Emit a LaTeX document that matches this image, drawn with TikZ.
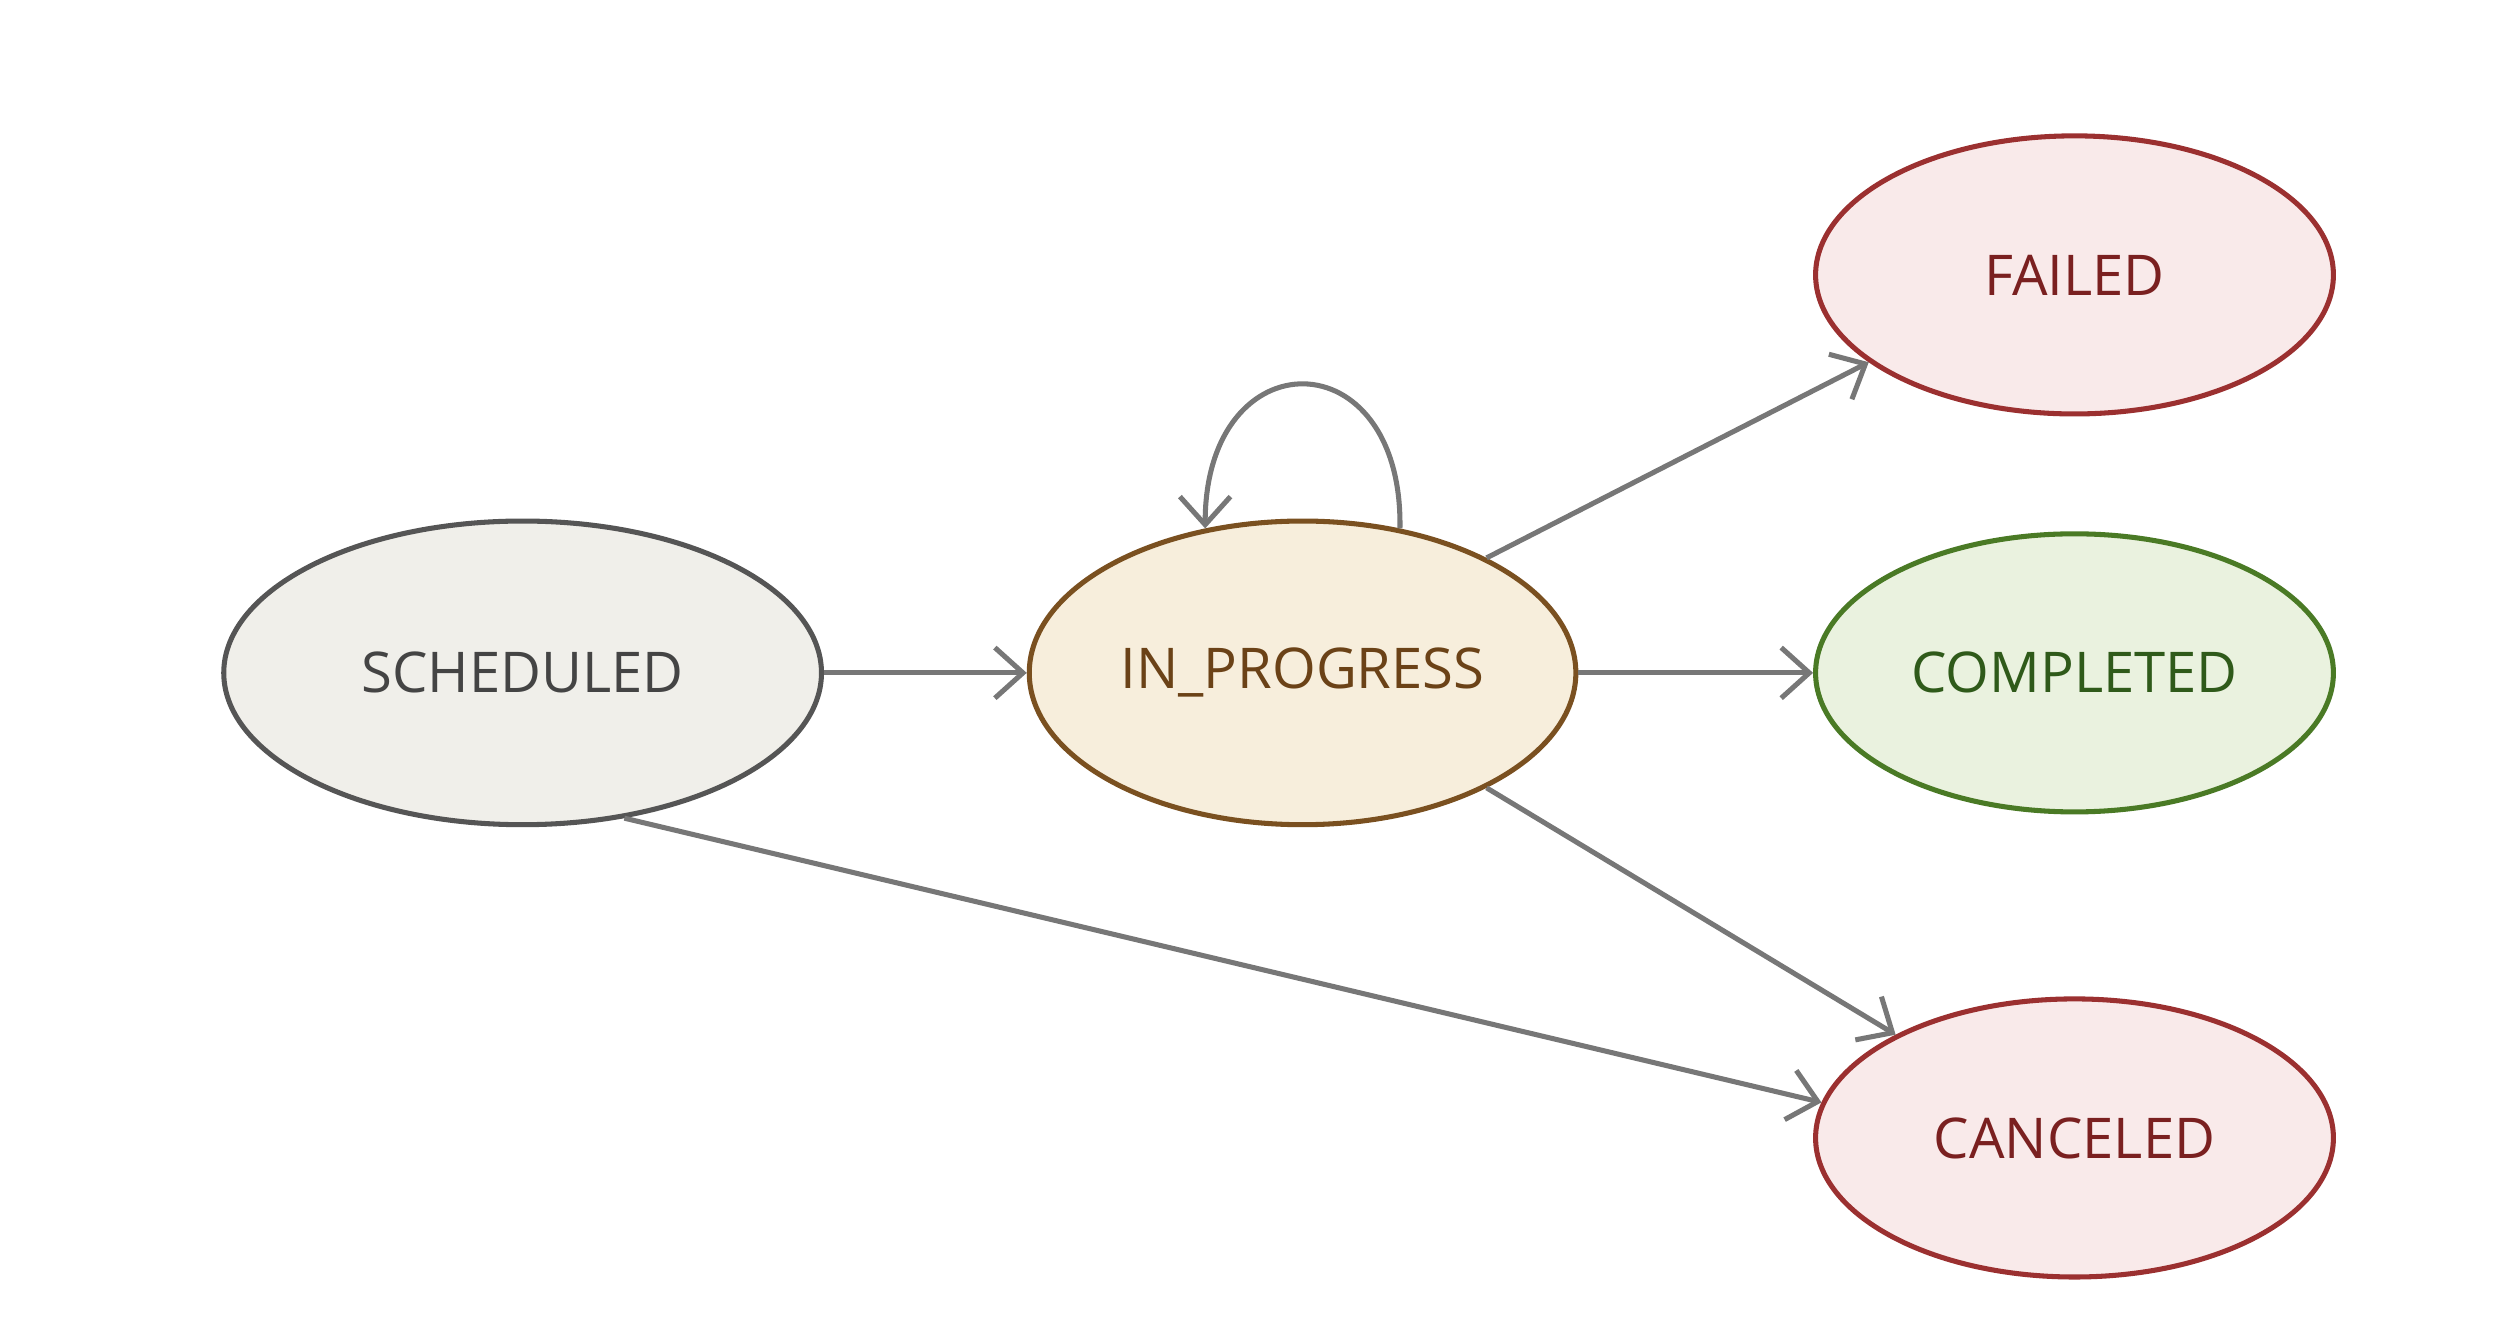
\documentclass[tikz,border=0pt]{standalone}
\usepackage{fontspec}
\setmainfont{Open Sans}
\usetikzlibrary{shapes.geometric,arrows.meta}
\definecolor{linegray}{HTML}{777777}
\definecolor{idlefill}{HTML}{F0EFEA}
\definecolor{idledraw}{HTML}{555555}
\definecolor{idletext}{HTML}{444444}
\definecolor{busyfill}{HTML}{F7EEDC}
\definecolor{busydraw}{HTML}{7A5020}
\definecolor{busytext}{HTML}{6B4217}
\definecolor{badfill}{HTML}{F9EAEA}
\definecolor{baddraw}{HTML}{9B3030}
\definecolor{badtext}{HTML}{7A2020}
\definecolor{goodfill}{HTML}{EAF2DF}
\definecolor{gooddraw}{HTML}{4A7A25}
\definecolor{goodtext}{HTML}{2F5A1A}
\tikzstyle{state} = [ellipse, draw, line width=0.9pt, inner sep=0pt,
minimum width=3.24cm, minimum height=1.74cm, font=\fontsize{10}{10}\selectfont]
\tikzstyle{idle} = [state, fill=idlefill, draw=idledraw, text=idletext]
\tikzstyle{busy} = [state, fill=busyfill, draw=busydraw, text=busytext]
\tikzstyle{bad} = [state, fill=badfill, draw=baddraw, text=badtext]
\tikzstyle{good} = [state, fill=goodfill, draw=gooddraw, text=goodtext]
\tikzstyle{arrow} = [draw=linegray, line width=0.9pt, -{Straight Barb[length=5pt,width=9pt]}]
\begin{document}
\begin{tikzpicture}
\useasboundingbox (0,0) rectangle (15.68,8.30);

\node[idle, minimum width=3.74cm, minimum height=1.9cm] (sched) at (3.27,4.09) {SCHEDULED};
\node[busy, minimum width=3.42cm, minimum height=1.9cm] (prog) at (8.15,4.09) {IN\_PROGRESS};

\node[bad] (failed) at (12.98,6.58) {FAILED};
\node[good] (done) at (12.98,4.09) {COMPLETED};
\node[bad] (cancel) at (12.98,1.18) {CANCELED};

\draw[arrow] (sched) -- (prog);
\draw[arrow] (prog) -- (done);
\draw[arrow] (prog.32) -- (failed.203);
\draw[arrow] (prog.-32) -- (cancel.150);
\draw[arrow] (sched.-55) -- (cancel.172);
\draw[arrow] (prog.56) .. controls +(0.02,1.2) and +(0,1.2) .. (prog.124);
\end{tikzpicture}
\end{document}
